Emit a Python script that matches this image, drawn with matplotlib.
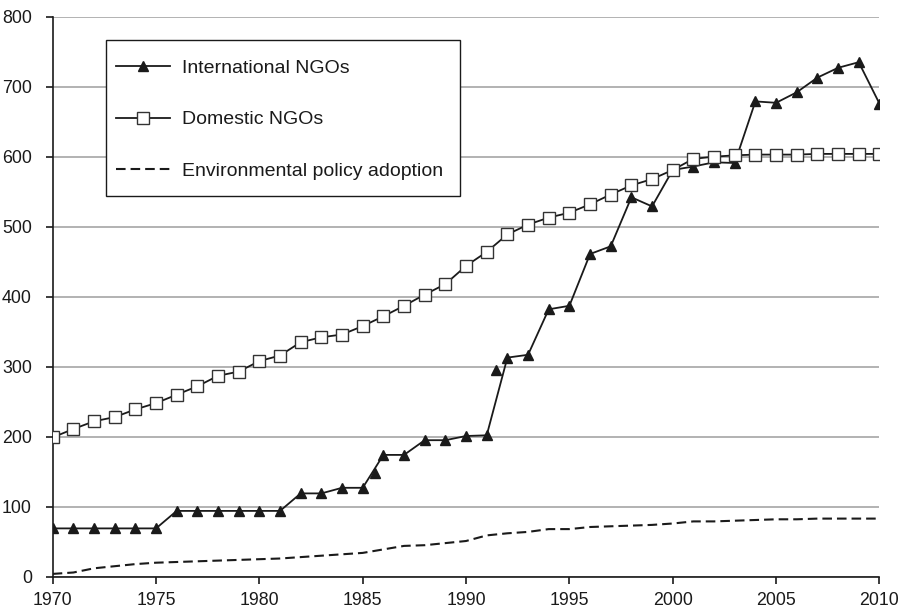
import matplotlib.pyplot as plt
from matplotlib.patches import Rectangle
import numpy as np

plt.rcParams['font.family'] = ['Liberation Sans', 'DejaVu Sans']

years = list(range(1970, 2011))

# International NGOs (triangles)
intl_ngos = [69, 69, 69, 69, 69, 69, 94, 94, 94, 94, 94, 94, 119, 119, 127, 127,
             174, 174, 195, 195, 201, 202, 313, 317, 382, 387, 461, 472, 542, 529,
             581, 586, 592, 591, 679, 677, 692, 713, 727, 735, 676]
# two stray markers that sit off the line in the original
intl_extra_years = [1985.6, 1991.45]
intl_extra_vals = [148, 295]

# Domestic NGOs (squares)
dom_ngos = [199, 211, 222, 228, 239, 248, 260, 272, 287, 293, 308, 316, 335, 342,
            346, 358, 372, 387, 403, 418, 444, 464, 489, 503, 513, 520, 532, 546,
            559, 568, 581, 597, 600, 602, 603, 603, 603, 604, 604, 604, 604]

# Environmental policy adoption (dashed)
env_policy = [4, 6, 12, 15, 18, 20, 21, 22, 23, 24, 25, 26, 28, 30, 32, 34, 39,
              44, 45, 48, 51, 59, 62, 64, 68, 68, 71, 72, 73, 74, 76, 79, 79, 80,
              81, 82, 82, 83, 83, 83, 83]

fig = plt.figure(figsize=(9.04, 6.12), dpi=100)
ax = fig.add_axes([52.7 / 904, 1 - 576.7 / 612, 826.7 / 904, 560 / 612])

ax.plot(years, intl_ngos, color='#1a1a1a', lw=1.3, marker='^', ms=7,
        mfc='#1a1a1a', mec='#1a1a1a', label='International NGOs', zorder=4)
ax.plot(intl_extra_years, intl_extra_vals, ls='none', marker='^', ms=7,
        mfc='#1a1a1a', mec='#1a1a1a', zorder=4)
ax.plot(years, dom_ngos, color='#1a1a1a', lw=1.3, marker='s', ms=8.5,
        mfc='white', mec='#333333', mew=1.0, label='Domestic NGOs', zorder=5)
ax.plot(years, env_policy, color='#1a1a1a', lw=1.5, ls=(0, (4.6, 2.4)),
        label='Environmental policy adoption', zorder=3)

ax.set_xlim(1970, 2010)
ax.set_ylim(0, 800)
ax.set_xticks(np.arange(1970, 2011, 5))
ax.set_yticks(np.arange(0, 801, 100))
ax.yaxis.grid(True, color='#a6a6a6', lw=1.2)
ax.set_axisbelow(True)

for s in ['top', 'right']:
    ax.spines[s].set_visible(False)
for s in ['left', 'bottom']:
    ax.spines[s].set_color('#1a1a1a')
    ax.spines[s].set_linewidth(1.2)

ax.tick_params(axis='both', labelsize=12.8, colors='#1a1a1a', width=1.2,
               length=5, direction='out')
ax.tick_params(axis='x', pad=6)
ax.tick_params(axis='y', pad=10)

leg = ax.legend(loc='upper left', bbox_to_anchor=(0.0766, 0.9245), fontsize=14,
                frameon=False, handlelength=2.8, handletextpad=0.6,
                labelspacing=1.76, borderpad=0, borderaxespad=0)
for t in leg.get_texts():
    t.set_color('#1a1a1a')

# legend box: tight horizontally, roomy vertically like the original
fig.canvas.draw()
bb = leg.get_window_extent().transformed(fig.transFigure.inverted())
padl, padr = 10 / 904, 17 / 904
padt, padb = 19 / 612, 16 / 612
ax.add_artist(Rectangle((bb.x0 - padl, bb.y0 - padb), bb.width + padl + padr,
                        bb.height + padt + padb, transform=fig.transFigure,
                        facecolor='white', edgecolor='#1a1a1a', lw=1.0,
                        zorder=6))
leg.set_zorder(7)

fig.savefig('out.png', dpi=100)
